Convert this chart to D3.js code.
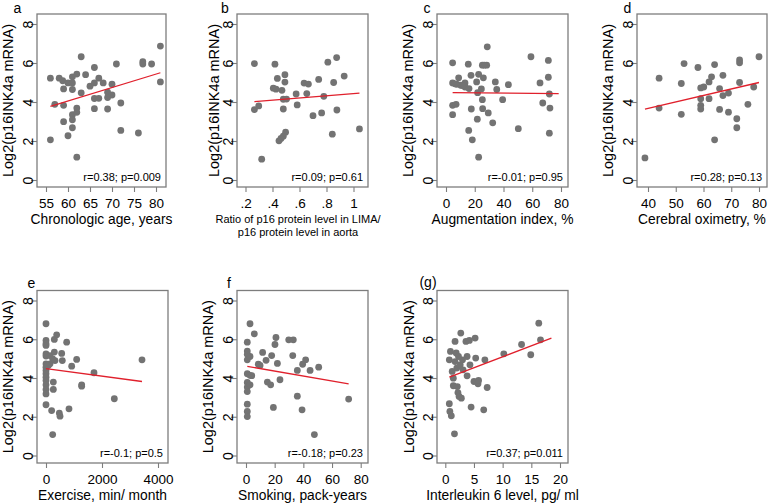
<!DOCTYPE html>
<html><head><meta charset="utf-8">
<script src="https://cdn.jsdelivr.net/npm/d3@7"></script>
<style>
body{margin:0;background:#fff}
svg{display:block}
text{font-family:"Liberation Sans",Arial,Helvetica,sans-serif;fill:#000}
</style>
</head><body>
<svg id="chart" width="769" height="503"></svg>
<script>
// ---------- data ----------
const yTicks = [0, 2, 4, 6, 8];

// (a) chronologic age
const ageX = [56,56,57,58,58.8,59,59,59,60,60,61,61,61,61,61,61,62,62,62,62,63,63,64,65,66,66,66,67,67,66,68,69,69,70,70,69,71,72,72,76,77,77,79,81,81];
const ageY = [5.22,2.06,3.88,5.22,5.09,4.67,3.83,2.99,4.98,2.27,5.29,4.98,4.64,3.35,3.09,2.68,5.43,3.69,3.47,1.17,6.32,4.47,5.40,4.81,5.77,4.18,3.66,5.22,4.19,4.98,4.98,4.50,3.64,4.91,4.36,4.23,5.95,3.95,2.54,2.41,6.07,5.95,5.95,6.87,5.03];
const fitAgeX = [56, 81];
const fitAgeY = [3.77, 5.5];
const ageTicks = [55, 60, 65, 70, 75, 80];

// (b) ratio p16 LIMA / aorta
const ratioX = [.266,.266,.298,.32,.418,.436,.406,.426,.47,.492,.492,.48,.504,.48,.497,.48,.463,.448,.575,.583,.634,.666,.654,.70,.742,.764,.78,.81,.853,.843,.875,.877,.931,1.044];
const ratioY = [5.97,3.61,3.80,1.07,5.94,5.21,4.71,4.66,4.60,5.40,5.02,4.14,4.15,3.64,2.45,2.25,2.13,2.01,4.41,3.85,4.97,4.92,4.43,3.30,5.16,3.44,4.29,6.04,5.00,2.35,6.28,3.59,5.33,2.62];
const fitRatioX = [0.266, 1.044];
const fitRatioY = [4.02, 4.46];
const ratioTicks = [0.2, 0.4, 0.6, 0.8, 1];
const ratioTickLabels = [".2", ".4", ".6", ".8", "1"];

// (c) augmentation index
const augX = [4.6,4.6,4.6,4.6,7.0,8.8,7.4,10.2,13.2,13.2,15.5,16.0,17.4,17.6,15.8,18.3,21.3,22.7,22.0,21.8,22.7,25.3,28.3,26.7,28.7,26.0,24.6,25.3,25.5,29.4,32.5,34.3,35.3,39.4,43.4,50.3,59.1,65.4,67.3,71.2,71.2,71.9,72.3,71.9,11.5,6.2];
const augY = [6.01,4.98,3.83,3.35,3.88,5.24,4.91,4.86,4.98,4.77,5.94,4.69,5.37,3.64,2.54,2.06,5.03,5.42,4.48,3.12,1.17,5.89,5.89,5.89,6.83,5.24,4.67,4.12,3.66,3.44,2.93,5.03,4.64,4.12,4.89,2.63,6.32,4.98,3.95,6.13,5.27,4.41,3.69,2.40,4.84,4.93];
const fitAugX = [4.6, 78.4];
const fitAugY = [4.48, 4.43];
const augTicks = [0, 20, 40, 60, 80];

// (d) cerebral oximetry
const oxiX = [38.9,44,44,52,52,53,58,59,59,59,59,60.1,62,62,62.9,64,64,65.8,65.8,67,67,69,69,72,72,73,73,73,76,78.1,80];
const oxiY = [1.13,5.22,3.69,4.95,3.37,5.97,5.77,4.72,4.17,3.83,3.64,4.77,4.17,5.03,5.29,5.92,2.06,4.69,3.62,5.37,4.33,4.46,3.48,3.14,2.68,6.16,6.01,5.0,3.88,4.77,6.32];
const fitOxiX = [38.9, 80];
const fitOxiY = [3.64, 5.0];
const oxiTicks = [40, 50, 60, 70, 80];

// (e) exercise
const exX = [0,0,0,0,0,0,0,0,0,0,0,0,0,0,0,0,143,143,202,262,262,238,298,298,381,321,238,476,500,560,583,738,821,917,1095,1274,1274,1714,2440,3429,83];
const exY = [6.80,5.94,5.77,5.68,5.25,5.13,4.73,4.56,4.39,4.22,4.04,3.87,3.65,3.41,3.18,2.62,5.16,4.73,2.32,3.79,3.41,1.08,5.34,5.99,6.23,4.90,4.99,2.19,2.03,5.27,4.90,5.85,2.41,4.61,4.96,3.65,3.58,4.27,2.93,4.94,4.65];
const fitExX = [0, 3429];
const fitExY = [4.48, 3.82];
const exTicks = [0, 2000, 4000];

// (f) smoking
const smokeX = [2.8,5.8,0.9,0.9,0.9,0.9,2.8,0.9,2.8,4,0.9,0.9,0.9,2.8,0.9,0.9,0.9,8.6,9.8,11.6,14,14.9,17.2,17.9,19.1,20.2,20.9,21.9,23.7,29.8,33,32.6,35.8,35.8,39.1,39.5,41.6,44.7,47.7,50.7,71.6];
const smokeY = [6.80,6.28,5.85,5.39,5.22,4.94,5.11,4.22,4.14,4.12,3.77,3.53,3.30,3.65,2.65,2.27,2.01,4.71,4.65,5.32,4.91,3.79,3.65,5.16,2.48,5.73,6.09,4.75,3.91,5.97,5.97,5.16,4.39,3.06,2.36,4.71,4.94,4.39,1.08,4.56,2.91];
const fitSmokeX = [0.9, 71.6];
const fitSmokeY = [4.6, 3.7];
const smokeTicks = [0, 20, 40, 60, 80];

// (g) interleukin 6
const il6X = [0.7,0.8,1.05,1.6,0.7,0.9,1.2,1.4,1.4,1.7,1.9,1.7,2.0,2.1,2.2,2.4,2.7,2.6,2.8,3.1,3.6,3.8,3.8,4.2,4.3,4.5,5.0,5.2,5.3,5.7,5.8,6.7,6.9,7.3,10.2,13.3,14.9,16.3,16.6,3.0,2.3];
const il6Y = [2.67,2.27,2.05,1.12,4.94,5.37,4.34,3.99,3.60,5.89,5.29,4.85,4.51,3.56,3.25,3.05,6.32,4.68,2.96,4.42,5.89,5.11,4.11,5.94,4.68,2.50,3.82,6.06,5.03,3.70,3.87,2.36,4.94,3.51,5.25,5.73,5.20,6.83,5.97,4.94,5.11];
const fitIl6X = [0.7, 18.5];
const fitIl6Y = [4.04, 6.06];
const il6Ticks = [0, 5, 10, 15, 20];

const panelLabels = ["a", "b", "c", "d", "e", "f", "(g)"];
const statTexts = ["r=0.38; p=0.009", "r=0.09; p=0.61", "r=-0.01; p=0.95", "r=0.28; p=0.13", "r=-0.1; p=0.5", "r=-0.18; p=0.23", "r=0.37; p=0.011"];
const xTitles = [
  ["Chronologic age, years"],
  ["Ratio of p16 protein level in LIMA/", "p16 protein level in aorta"],
  ["Augmentation index, %"],
  ["Cerebral oximetry, %"],
  ["Exercise, min/ month"],
  ["Smoking, pack-years"],
  ["Interleukin 6 level, pg/ ml"]
];
const yTitle = "Log2(p16INK4a mRNA)";

// ---------- layout ----------
const TOP = {t: 14, b: 187, y0: 180, y8: 24};
const BOT = {t: 290.5, b: 463, y0: 455.5, y8: 300.5};
const panels = [
  {row: TOP, l: 37,  r: 166, xd: [55, 80],   xr: [46, 156],      ticks: ageTicks,   tl: null, x: ageX, y: ageY, fx: fitAgeX, fy: fitAgeY, lx: 17.5, ly: 13,   yto: 24},
  {row: TOP, l: 237, r: 368, xd: [0.2, 1],   xr: [245.5, 353.5], ticks: ratioTicks, tl: ratioTickLabels, x: ratioX, y: ratioY, fx: fitRatioX, fy: fitRatioY, lx: 225, ly: 13, yto: 18, small: true},
  {row: TOP, l: 437, r: 568, xd: [0, 80],    xr: [446, 561],     ticks: augTicks,   tl: null, x: augX, y: augY, fx: fitAugX, fy: fitAugY, lx: 427, ly: 13, yto: 24},
  {row: TOP, l: 637, r: 767, xd: [40, 80],   xr: [648, 759],     ticks: oxiTicks,   tl: null, x: oxiX, y: oxiY, fx: fitOxiX, fy: fitOxiY, lx: 627.5, ly: 13, yto: 24},
  {row: BOT, l: 37,  r: 168, xd: [0, 4000],  xr: [46, 158],      ticks: exTicks,    tl: null, x: exX, y: exY, fx: fitExX, fy: fitExY, lx: 31.5, ly: 288, yto: 24},
  {row: BOT, l: 237, r: 368, xd: [0, 80],    xr: [246, 360.7],   ticks: smokeTicks, tl: null, x: smokeX, y: smokeY, fx: fitSmokeX, fy: fitSmokeY, lx: 229, ly: 288, yto: 24},
  {row: BOT, l: 437, r: 568, xd: [0, 20],    xr: [445.3, 560],   ticks: il6Ticks,   tl: null, x: il6X, y: il6Y, fx: fitIl6X, fy: fitIl6Y, lx: 428, ly: 287, yto: 23}
];

const GRAY = "#7d7d7d";
const DOT = "#737373";
const RED = "#e0202c";
const svg = d3.select("#chart");

panels.forEach((p, i) => {
  const g = svg.append("g");
  const t = p.row.t, b = p.row.b;
  const x = d3.scaleLinear().domain(p.xd).range(p.xr);
  const y = d3.scaleLinear().domain([0, 8]).range([p.row.y0, p.row.y8]);

  // y axis
  const ya = g.append("g").attr("transform", `translate(${p.l},0)`)
    .call(d3.axisLeft(y).tickValues(yTicks).tickSize(6).tickFormat(d3.format("d")));
  ya.select(".domain").remove();
  ya.selectAll("line").attr("stroke", GRAY).attr("stroke-width", 1.1);
  ya.selectAll("text").attr("x", null).attr("dy", null).attr("text-anchor", "middle")
    .attr("transform", "translate(-4.5,0) rotate(-90)").style("font-size", "14px").attr("fill", "#000");

  // x axis
  const xa = g.append("g").attr("transform", `translate(0,${b})`)
    .call(d3.axisBottom(x).tickValues(p.ticks).tickSize(5)
      .tickFormat((d, k) => p.tl ? p.tl[k] : d3.format("d")(d)));
  xa.select(".domain").remove();
  xa.selectAll("line").attr("stroke", GRAY).attr("stroke-width", 1.1);
  xa.selectAll("text").attr("y", 20.5).attr("dy", null).style("font-size", "13.5px").attr("fill", "#000");

  // box
  g.append("rect").attr("x", p.l).attr("y", t).attr("width", p.r - p.l).attr("height", b - t)
    .attr("fill", "none").attr("stroke", GRAY).attr("stroke-width", 1.3);

  // points
  g.append("g").selectAll("circle").data(p.x.map((v, k) => [v, p.y[k]])).join("circle")
    .attr("cx", d => x(d[0])).attr("cy", d => y(d[1])).attr("r", 3.4).attr("fill", DOT);

  // fit line
  g.append("path").datum(p.fx.map((v, k) => [v, p.fy[k]]))
    .attr("d", d3.line().x(d => x(d[0])).y(d => y(d[1])))
    .attr("fill", "none").attr("stroke", RED).attr("stroke-width", 1.3);

  // stats
  g.append("text").attr("x", p.r - 5).attr("y", b - 6).attr("text-anchor", "end")
    .style("font-size", "11px").text(statTexts[i]);

  // panel label
  g.append("text").attr("x", p.lx).attr("y", p.ly).attr("text-anchor", "middle")
    .style("font-size", "14px").text(panelLabels[i]);

  // y title
  g.append("text").attr("transform", `translate(${p.l - p.yto},${(t + b) / 2}) rotate(-90)`)
    .attr("text-anchor", "middle").style("font-size", "14.5px").text(yTitle);

  // x title
  if (p.small) {
    xTitles[i].forEach((s, k) => {
      g.append("text").attr("x", 298).attr("y", b + 35.5 + k * 13).attr("text-anchor", "middle")
        .style("font-size", "11px").text(s);
    });
  } else {
    g.append("text").attr("x", (p.l + p.r) / 2).attr("y", b + 36.5).attr("text-anchor", "middle")
      .style("font-size", "13.8px").text(xTitles[i][0]);
  }
});
</script>
</body></html>
